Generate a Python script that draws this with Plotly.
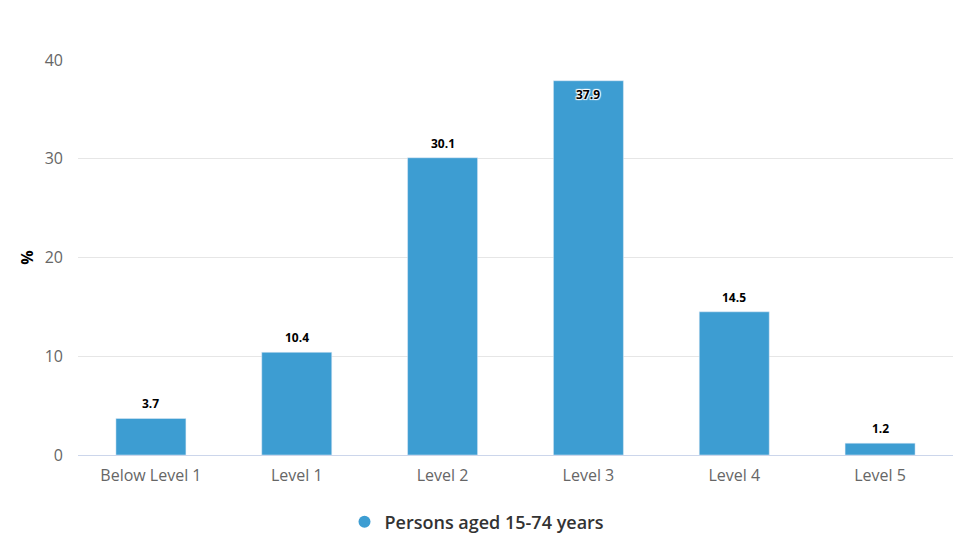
import plotly.graph_objects as go

categories = ["Below Level 1", "Level 1", "Level 2", "Level 3", "Level 4", "Level 5"]
values = [3.7, 10.4, 30.1, 37.9, 14.5, 1.2]
series_name = "Persons aged 15-74 years"
y_ticks = [0, 10, 20, 30, 40]

color = "#3d9dd2"
y_max = 40

# page body has an 8px margin, so the figure is drawn slightly smaller
W, H = 967, 547

fig = go.Figure()
fig.add_trace(go.Bar(
    x=categories, y=values, marker_color=color, showlegend=False, hoverinfo="skip",
))
fig.add_trace(go.Scatter(
    x=[None], y=[None], mode="markers", name=series_name,
    marker=dict(symbol="circle", size=16, color=color),
))

shadow = "1px 1px 1px #fff, -1px -1px 1px #fff, 1px -1px 1px #fff, -1px 1px 1px #fff"
for c, v in zip(categories, values):
    inside = v > y_max - 3
    fig.add_annotation(
        x=c, y=v, text=f"{v:.1f}", showarrow=False,
        yanchor="top" if inside else "bottom", yshift=-3 if inside else 4,
        font=dict(family="Open Sans", size=12, color="#000000", weight="bold", shadow=shadow),
    )

fig.update_layout(
    width=W, height=H,
    margin=dict(l=70, r=22, t=52, b=100, autoexpand=False),
    plot_bgcolor="white", paper_bgcolor="white",
    font=dict(family="Open Sans", color="#666666", size=16),
    bargap=0.52,
    legend=dict(orientation="h", x=469 / W, xanchor="center", xref="container",
                y=33 / H, yanchor="middle", yref="container",
                font=dict(size=18, color="#333333", weight=600), itemsizing="constant"),
    xaxis=dict(showline=True, linecolor="#ccd6eb", linewidth=1, ticks="", showgrid=False,
               automargin=False, ticklabelstandoff=6, tickfont=dict(size=16, color="#666666")),
    yaxis=dict(range=[0, y_max], tickvals=y_ticks, showgrid=True, gridcolor="#e6e6e6",
               zeroline=False, ticks="", ticklabelstandoff=14, automargin=False,
               title=dict(text="%", font=dict(size=16, color="#000000", weight="bold"), standoff=7),
               tickfont=dict(size=16, color="#666666")),
)

fig.write_html("out.html")
